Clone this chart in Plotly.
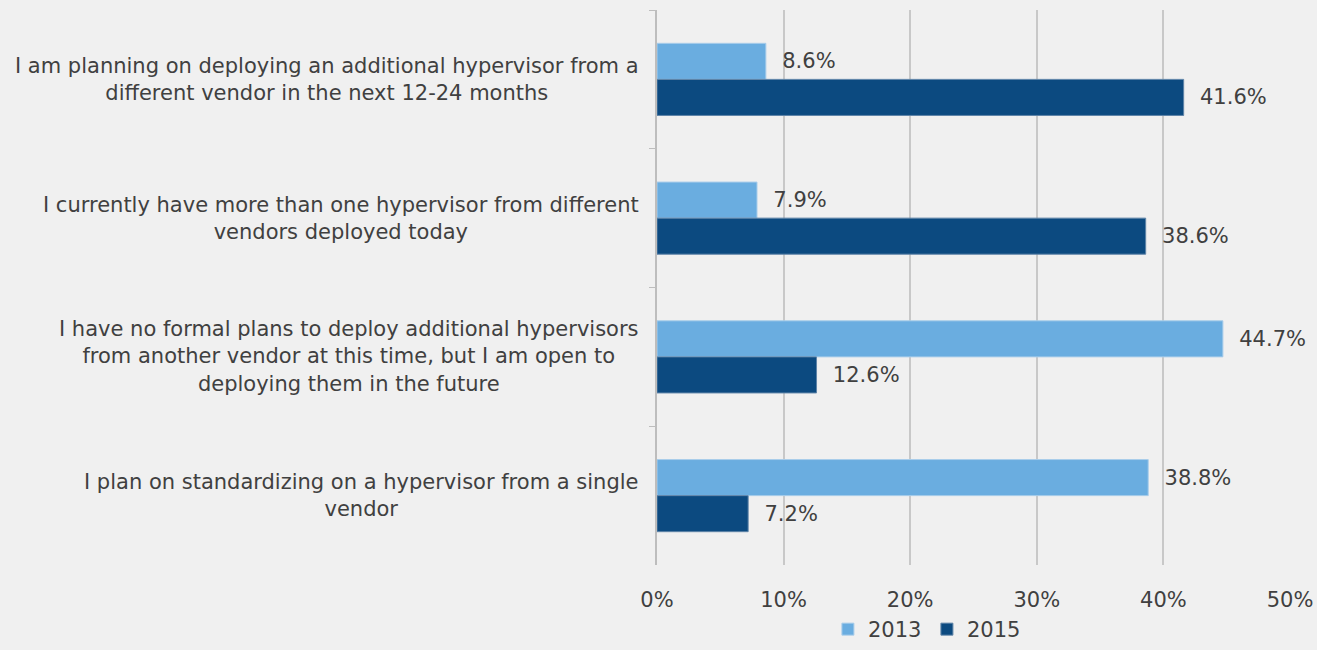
import plotly.graph_objects as go

categories = [
    "I am planning on deploying an additional hypervisor from a<br>different vendor in the next 12-24 months",
    "I currently have more than one hypervisor from different<br>vendors deployed today",
    "I have no formal plans to deploy additional hypervisors<br>from another vendor at this time, but I am open to<br>deploying them in the future",
    "I plan on standardizing on a hypervisor from a single<br>vendor",
]
cat_keys = ["c1", "c2", "c3", "c4"]
values_2013 = [8.6, 7.9, 44.7, 38.8]
values_2015 = [41.6, 38.6, 12.6, 7.2]
x_ticks = [0, 10, 20, 30, 40, 50]
x_tick_labels = ["0%", "10%", "20%", "30%", "40%", "50%"]

FONT = "DejaVu Sans, Liberation Sans, Arial, sans-serif"
TXT = "#404040"
FS = 21

fig = go.Figure()
fig.add_trace(go.Bar(
    y=cat_keys, x=values_2013, orientation="h", name="2013",
    marker=dict(color="#6aade0", line=dict(color="#a9cdea", width=1)),
    text=["  %.1f%%" % v for v in values_2013], textposition="outside",
    textfont=dict(size=FS, color=TXT, family=FONT), cliponaxis=False,
))
fig.add_trace(go.Bar(
    y=cat_keys, x=values_2015, orientation="h", name="2015",
    marker=dict(color="#0c4a80", line=dict(color="#5f84a8", width=1)),
    text=["  %.1f%%" % v for v in values_2015], textposition="outside",
    textfont=dict(size=FS, color=TXT, family=FONT), cliponaxis=False,
))

for k, c in zip(cat_keys, categories):
    fig.add_annotation(
        x=0, xref="paper", y=k, yref="y", text=c, showarrow=False,
        xanchor="right", align="center", xshift=-16,
        font=dict(size=FS, color=TXT, family=FONT),
    )

fig.update_layout(
    width=1317, height=650,
    paper_bgcolor="#f0f0f0", plot_bgcolor="#f0f0f0",
    margin=dict(l=657, r=27, t=10, b=85),
    barmode="group", bargap=0.48, bargroupgap=0,
    font=dict(family=FONT, color=TXT, size=FS),
    showlegend=True,
    legend=dict(orientation="h", x=0.27, xanchor="left",
                yref="container", y=-0.012, yanchor="bottom",
                font=dict(size=FS, color=TXT, family=FONT), traceorder="normal",
                itemwidth=30, entrywidth=54, bgcolor="rgba(0,0,0,0)",
                borderwidth=0),
    xaxis=dict(range=[0, 50], tickvals=x_ticks, ticktext=x_tick_labels,
               showgrid=True, gridcolor="#c8c8c8", gridwidth=1.5,
               zeroline=False, showline=False, ticks="", ticklabelstandoff=20,
               tickfont=dict(size=FS, color=TXT, family=FONT), fixedrange=True,
               automargin=False),
    yaxis=dict(autorange="reversed", showticklabels=False, showline=True,
               linecolor="#bdbdbd", linewidth=1.5, ticks="outside", tickson="boundaries",
               ticklen=6, tickcolor="#bdbdbd", showgrid=False, zeroline=False,
               automargin=False),
)

fig.write_html("out.html", config={"displayModeBar": False},
               post_script="document.body.style.margin='0';document.body.style.background='#f0f0f0';")
